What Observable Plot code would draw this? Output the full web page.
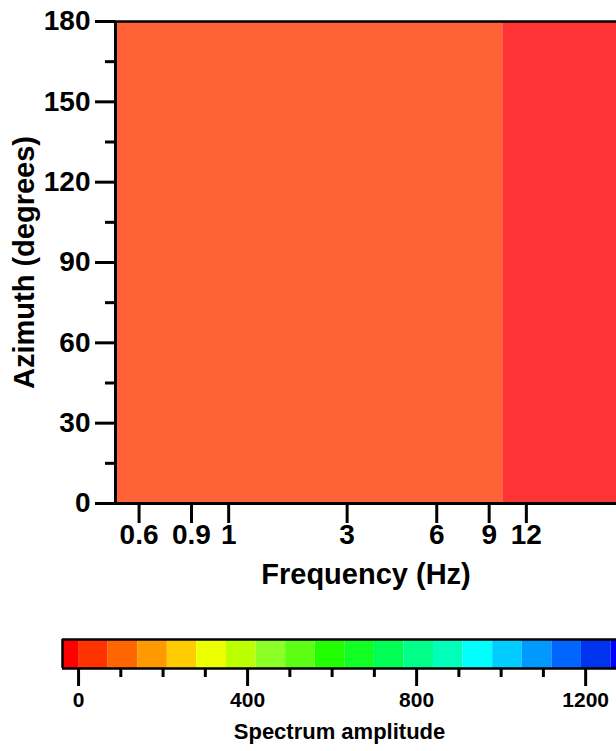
<!DOCTYPE html>
<html>
<head>
<meta charset="utf-8">
<script src="https://cdn.jsdelivr.net/npm/d3@7"></script>
<script src="https://cdn.jsdelivr.net/npm/@observablehq/plot@0.6"></script>
<style>
  html, body { margin: 0; padding: 0; background: #fff; overflow: hidden; }
  #chart svg { display: block; }
</style>
</head>
<body>
<div id="chart"></div>
<script>
// ---- data ----
const freqStart = [0.5, 10];          // Hz, lower edge of each frequency band
const freqEnd = [10, 30];             // Hz, upper edge of each frequency band
const azimuthLow = [0, 0];            // degrees
const azimuthHigh = [180, 180];       // degrees
const amplitude = [100, 35];          // spectrum amplitude of each cell

const xTickValues = [0.6, 0.9, 1.2, 3, 6, 9, 12];
const xTickLabels = ["0.6", "0.9", "1", "3", "6", "9", "12"];
const yTickValues = [0, 30, 60, 90, 120, 150, 180];
const yMinorTicks = [15, 45, 75, 105, 135, 165];

const cbarEdges = [-38, 0, 70, 140, 210, 280, 350, 420, 490, 560, 630, 700, 770, 840, 910, 980, 1050, 1120, 1190, 1260, 1330];
const cbarColors = ["#FF0000", "#FF3300", "#FF6600", "#FF9900", "#FFCC00", "#EEFF00", "#BBFF00", "#8CFF26", "#5CFF14", "#22FF00",
                    "#11FF22", "#00FF55", "#00FF88", "#00FFBB", "#00FFFF", "#00CCFF", "#0099FF", "#0066FF", "#0033EE", "#0000FF"];
const cbarMajor = [0, 400, 800, 1200];
const cbarMinor = [100, 200, 300, 500, 600, 700, 900, 1000, 1100];

// ---- tables ----
const cells = freqStart.map((f, i) => ({f0: f, f1: freqEnd[i], a0: azimuthLow[i], a1: azimuthHigh[i], amp: amplitude[i]}));
const cellColor = d3.scaleLinear().domain([35, 100]).range(["#FF3437", "#FF6236"]);
const xTicks = xTickValues.map((v, i) => ({v, label: xTickLabels[i]}));
const swatches = cbarColors.map((c, i) => ({x1: cbarEdges[i], x2: cbarEdges[i + 1], c}));

const font = "'Liberation Sans', Arial, Helvetica, sans-serif";

const heat = Plot.plot({
  width: 616,
  height: 610,
  marginTop: 21,
  marginBottom: 107,
  marginLeft: 115,
  marginRight: 0,
  style: {fontFamily: font, fontWeight: "bold", fontSize: "28px", color: "#000", background: "#fff", overflow: "visible"},
  x: {type: "log", domain: [0.5, 24.1]},
  y: {domain: [0, 180]},
  marks: [
    Plot.rect(cells, {x1: "f0", x2: "f1", y1: "a0", y2: "a1", fill: d => cellColor(d.amp), clip: true}),
    Plot.ruleY([180], {stroke: "#000", strokeWidth: 2.5}),
    Plot.ruleY([0], {stroke: "#000", strokeWidth: 3}),
    Plot.ruleX([0.5], {stroke: "#000", strokeWidth: 3}),
    Plot.axisY({ticks: yTickValues, tickSize: 20, tickPadding: 5, strokeWidth: 3, label: null, fontSize: 28}),
    Plot.axisY({ticks: yMinorTicks, tickSize: 10, strokeWidth: 3, tickFormat: () => "", label: null}),
    Plot.axisX({ticks: xTickValues, tickFormat: () => "", tickSize: 20, strokeWidth: 3, label: null}),
    Plot.text(xTicks, {x: "v", text: "label", frameAnchor: "bottom", dy: 40, fontSize: 28, fontWeight: "bold", textAnchor: "middle"}),
    Plot.text(["Frequency (Hz)"], {frameAnchor: "bottom", dy: 80, fontSize: 29, fontWeight: "bold", textAnchor: "middle"}),
    Plot.text(["Azimuth (degrees)"], {frameAnchor: "left", dx: -91, rotate: -90, fontSize: 29, fontWeight: "bold", textAnchor: "middle"})
  ]
});

const cbar = Plot.plot({
  width: 616,
  height: 141,
  marginTop: 29,
  marginBottom: 83,
  marginLeft: 62,
  marginRight: 0,
  style: {fontFamily: font, fontWeight: "bold", fontSize: "21px", color: "#000", background: "#fff", overflow: "visible"},
  x: {domain: [-38, 1273]},
  y: {domain: [0, 1], axis: null},
  marks: [
    Plot.rect(swatches, {x1: "x1", x2: "x2", y1: 0, y2: 1, fill: "c", clip: true}),
    Plot.ruleY([0, 1], {stroke: "#000", strokeWidth: 2.5}),
    Plot.ruleX([-38], {stroke: "#000", strokeWidth: 2.5}),
    Plot.axisX({ticks: cbarMajor, tickFormat: d3.format("d"), tickSize: 18, tickPadding: 6, strokeWidth: 3, label: null, fontSize: 21}),
    Plot.axisX({ticks: cbarMinor, tickSize: 9, strokeWidth: 3, tickFormat: () => "", label: null}),
    Plot.text(["Spectrum amplitude"], {frameAnchor: "bottom", dy: 70, fontSize: 22, fontWeight: "bold", textAnchor: "middle"})
  ]
});

document.getElementById("chart").append(heat, cbar);
</script>
</body>
</html>
